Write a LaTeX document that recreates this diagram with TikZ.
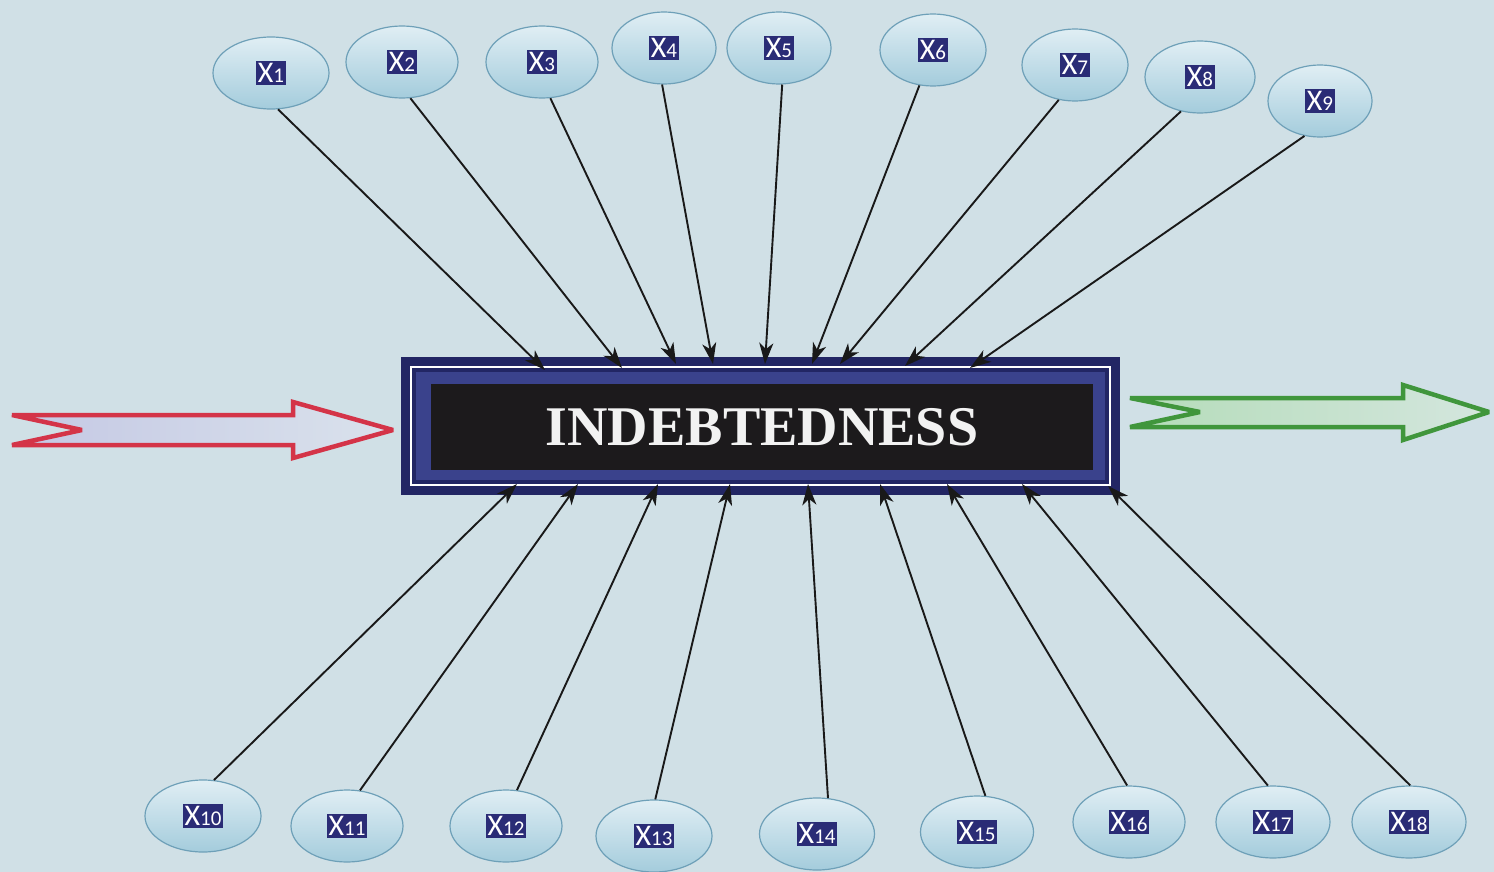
\documentclass[tikz,border=0pt]{standalone}
\usepackage{fontspec}
\setmainfont{Liberation Serif}
\newfontfamily\lblfont{Carlito}
\usetikzlibrary{arrows.meta,shapes.geometric}
\definecolor{bgc}{RGB}{208,224,230}
\definecolor{navylbl}{RGB}{42,44,118}
\definecolor{navyout}{RGB}{34,38,100}
\definecolor{navyin}{RGB}{58,66,140}
\definecolor{boxblack}{RGB}{28,26,28}
\definecolor{elltop}{RGB}{224,238,244}
\definecolor{ellbot}{RGB}{164,204,220}
\definecolor{elldraw}{RGB}{110,160,184}
\definecolor{redarr}{RGB}{212,52,72}
\definecolor{greenarr}{RGB}{64,150,60}
\definecolor{conncol}{RGB}{25,25,25}
\definecolor{redfillL}{RGB}{196,200,228}
\definecolor{redfillR}{RGB}{218,226,236}
\definecolor{grnfillL}{RGB}{180,220,185}
\definecolor{grnfillR}{RGB}{212,230,222}
\newcommand{\xlab}[1]{{\setlength{\fboxsep}{2pt}\colorbox{navylbl}{\lblfont\fontsize{30}{30}\selectfont\color{white}X{\fontsize{21}{21}\selectfont #1}}}}
\tikzset{
  ell/.style={ellipse, draw=elldraw, line width=1.2pt, top color=elltop, bottom color=ellbot, inner sep=0pt, minimum height=72pt},
  conn/.style={draw=conncol, line width=1.9pt, -{Stealth[length=21pt,width=14pt,inset=6pt]}},
  bigarrow/.style={line width=4.5pt, line join=miter, miter limit=2.5},
}
\begin{document}
\begin{tikzpicture}[x=1pt,y=-1pt]
\useasboundingbox (0,0) rectangle (1494,872);
\fill[bgc] (0,0) rectangle (1494,872);

% central box
\fill[navyout] (401,357) rectangle (1120,495);
\draw[white, line width=2.5pt] (411,367) rectangle (1110,485);
\fill[navyin] (416,372) rectangle (1105,480);
\node[fill=boxblack, minimum width=662pt, minimum height=86pt, inner sep=0pt,
      text=white!90!gray, font=\bfseries\fontsize{56}{56}\selectfont] (box) at (762,427) {INDEBTEDNESS};

% big arrows
\path[bigarrow, draw=redarr, left color=redfillL, right color=redfillR]
  (12,415) -- (293,415) -- (293,402) -- (393,430) -- (293,458) -- (293,445) -- (12,445) -- (82,430) -- cycle;
\path[bigarrow, draw=greenarr, left color=grnfillL, right color=grnfillR]
  (1130,398) -- (1403,398) -- (1403,385) -- (1489,412) -- (1403,440) -- (1403,427) -- (1130,427) -- (1200,412) -- cycle;

% top ellipses
\node[ell, minimum width=116pt] (x1) at (271,73) {\xlab{1}};
\node[ell, minimum width=112pt] (x2) at (402,62) {\xlab{2}};
\node[ell, minimum width=112pt] (x3) at (542,62) {\xlab{3}};
\node[ell, minimum width=104pt] (x4) at (664,48) {\xlab{4}};
\node[ell, minimum width=104pt] (x5) at (779,48) {\xlab{5}};
\node[ell, minimum width=106pt] (x6) at (933,50) {\xlab{6}};
\node[ell, minimum width=106pt] (x7) at (1075,65) {\xlab{7}};
\node[ell, minimum width=110pt] (x8) at (1200,77) {\xlab{8}};
\node[ell, minimum width=104pt] (x9) at (1320,101) {\xlab{9}};

% bottom ellipses
\node[ell, minimum width=116pt] (x10) at (203,816) {\xlab{10}};
\node[ell, minimum width=112pt] (x11) at (347,826) {\xlab{11}};
\node[ell, minimum width=112pt] (x12) at (506,826) {\xlab{12}};
\node[ell, minimum width=116pt] (x13) at (654,836) {\xlab{13}};
\node[ell, minimum width=115pt] (x14) at (817,834) {\xlab{14}};
\node[ell, minimum width=113pt] (x15) at (977,832) {\xlab{15}};
\node[ell, minimum width=112pt] (x16) at (1129,822) {\xlab{16}};
\node[ell, minimum width=114pt] (x17) at (1273,822) {\xlab{17}};
\node[ell, minimum width=114pt] (x18) at (1409,822) {\xlab{18}};

% target points on the box
\coordinate (t1) at (545,370);
\coordinate (t2) at (622,368);
\coordinate (t3) at (676,364);
\coordinate (t4) at (713,364);
\coordinate (t5) at (765,364);
\coordinate (t6) at (812,364);
\coordinate (t7) at (840,364);
\coordinate (t8) at (905,366);
\coordinate (t9) at (970,368);
\coordinate (b10) at (517,484);
\coordinate (b11) at (578,484);
\coordinate (b12) at (658,484);
\coordinate (b13) at (730,484);
\coordinate (b14) at (808,484);
\coordinate (b15) at (880,484);
\coordinate (b16) at (947,484);
\coordinate (b17) at (1022,484);
\coordinate (b18) at (1108,486);

% connectors
\draw[conn] (x1.-79) -- (t1);
\draw[conn] (x2.-77) -- (t2);
\draw[conn] (x3.-77) -- (t3);
\draw[conn] (x4.-93) -- (t4);
\draw[conn] (x5.-85) -- (t5);
\draw[conn] (x6.-111) -- (t6);
\draw[conn] (x7.-115) -- (t7);
\draw[conn] (x8.-119) -- (t8);
\draw[conn] (x9.-114) -- (t9);
\draw[conn] (x10.73) -- (b10);
\draw[conn] (x11.70) -- (b11);
\draw[conn] (x12.73) -- (b12);
\draw[conn] (x13.88) -- (b13);
\draw[conn] (x14.73) -- (b14);
\draw[conn] (x15.77) -- (b15);
\draw[conn] (x16.93) -- (b16);
\draw[conn] (x17.98) -- (b17);
\draw[conn] (x18.88) -- (b18);
\end{tikzpicture}
\end{document}
